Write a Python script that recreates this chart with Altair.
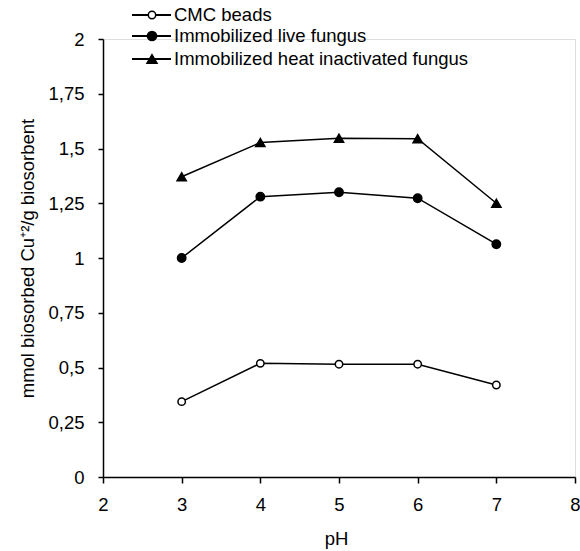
import altair as alt
import pandas as pd

# ---- data ----
ph = [3, 4, 5, 6, 7]
series_names = ["CMC beads", "Immobilized live fungus", "Immobilized heat inactivated fungus"]
cmc_beads = [0.344, 0.519, 0.515, 0.515, 0.42]
live_fungus = [1.0, 1.28, 1.30, 1.273, 1.063]
heat_fungus = [1.371, 1.527, 1.547, 1.545, 1.25]
x_ticks = [2, 3, 4, 5, 6, 7, 8]
y_ticks = [0, 0.25, 0.5, 0.75, 1, 1.25, 1.5, 1.75, 2]

rows = []
for name, vals in zip(series_names, [cmc_beads, live_fungus, heat_fungus]):
    for p, v in zip(ph, vals):
        rows.append({"series": name, "pH": p, "value": v})
df = pd.DataFrame(rows)

FONT = "Liberation Sans"
FS = 18.5
shape_range = ["circle", "circle", "triangle-up"]
fill_range = ["white", "black", "black"]
size_range = [55, 85, 100]

W, H = 472, 438
LABEL_EXPR = "replace(toString(datum.value), '.', ',')"

x_enc = alt.X(
    "pH:Q",
    scale=alt.Scale(domain=[2, 8], nice=False, zero=False),
    axis=alt.Axis(
        values=x_ticks, title="pH", grid=False, tickSize=6, tickWidth=1.5,
        domainWidth=1.5, domainColor="black", tickColor="black",
        labelPadding=12, labelFont=FONT, labelFontSize=FS, labelColor="black",
        labelExpr=LABEL_EXPR, labelFlush=False, labelOverlap=False,
        titleFont=FONT, titleFontSize=FS, titleFontWeight="normal", titleColor="black",
        titleX=233, titleY=67, titleAlign="center", titleBaseline="alphabetic",
    ),
)
y_enc = alt.Y(
    "value:Q",
    scale=alt.Scale(domain=[0, 2], nice=False, zero=True),
    axis=alt.Axis(
        values=y_ticks, title="mmol biosorbed Cu⁺²/g biosorbent", grid=False,
        tickSize=5, tickWidth=1.5, domainWidth=1.5, domainColor="black", tickColor="black",
        labelPadding=14, labelFont=FONT, labelFontSize=FS, labelColor="black",
        labelExpr=LABEL_EXPR, labelFlush=False, labelOverlap=False,
        titleFont=FONT, titleFontSize=FS, titleFontWeight="normal", titleColor="black",
        titleX=-70, titleY=H / 2, titleAngle=270, titleAlign="center", titleBaseline="alphabetic",
    ),
)

base = alt.Chart(df)
lines = base.mark_line(color="black", strokeWidth=1.5).encode(
    x=x_enc, y=y_enc, detail="series:N"
)
points = base.mark_point(filled=False, stroke="black", strokeWidth=1.5, opacity=1).encode(
    x="pH:Q",
    y="value:Q",
    shape=alt.Shape("series:N", scale=alt.Scale(domain=series_names, range=shape_range), legend=None),
    fill=alt.Fill("series:N", scale=alt.Scale(domain=series_names, range=fill_range), legend=None),
    size=alt.Size("series:N", scale=alt.Scale(domain=series_names, range=size_range), legend=None),
)

layers = [lines, points]

# ---- manual legend (line + marker + label) ----
legend_rows_y = [-24, -3, 20]
for name, shp, fil, sz, ly in zip(series_names, shape_range, fill_range, size_range, legend_rows_y):
    ldf = pd.DataFrame({"label": [name]})
    lc = alt.Chart(ldf)
    layers.append(
        lc.mark_rule(color="black", strokeWidth=1.8).encode(
            x=alt.value(29), x2=alt.value(68), y=alt.value(ly)
        )
    )
    layers.append(
        lc.mark_point(shape=shp, fill=fil, stroke="black", strokeWidth=1.5, size=sz, opacity=1, filled=False).encode(
            x=alt.value(49), y=alt.value(ly)
        )
    )
    layers.append(
        lc.mark_text(align="left", baseline="middle", font=FONT, fontSize=FS, color="black").encode(
            x=alt.value(71), y=alt.value(ly), text="label:N"
        )
    )

chart = alt.layer(*layers).properties(
    width=W,
    height=H,
    autosize=alt.AutoSizeParams(type="none"),
    padding={"left": 103, "top": 39, "right": 5, "bottom": 74},
).configure_view(stroke=None).configure(background="white")

chart.save("out.html", embed_options={"renderer": "svg", "actions": False})
